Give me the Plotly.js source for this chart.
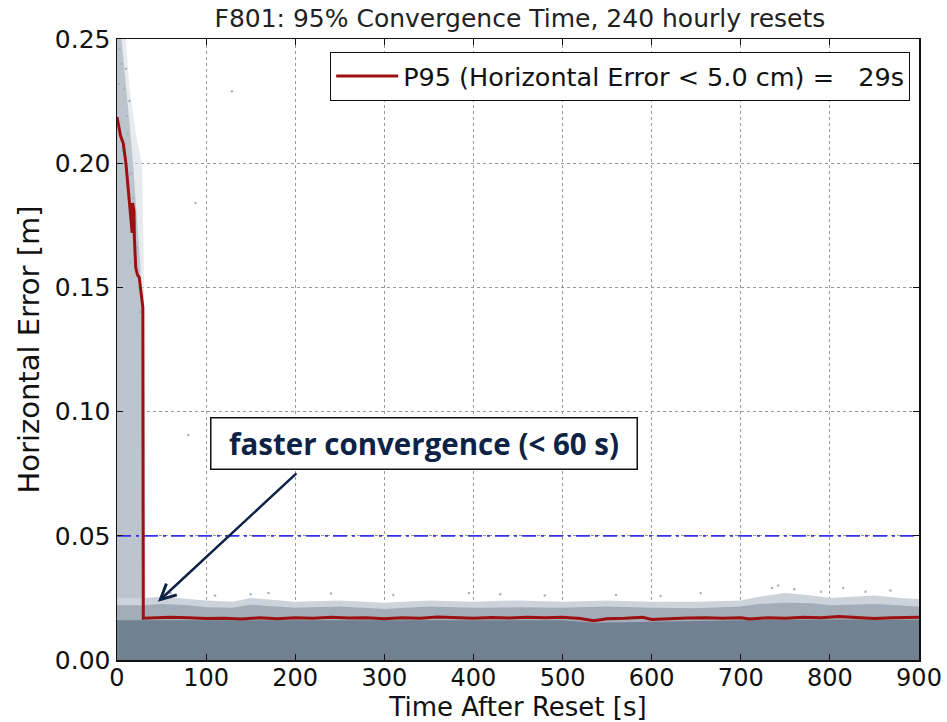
<!DOCTYPE html>
<html>
<head>
<meta charset="utf-8">
<script src="https://cdn.plot.ly/plotly-3.0.1.min.js"></script>
<style>html,body{margin:0;padding:0;background:#fff;}#chart{width:947px;height:722px;}</style>
</head>
<body>
<div id="chart"></div>
<script>
// ---- P95 convergence curve (seconds, metres) ----
const p95X = [0, 2, 4, 7, 10, 13, 16, 17, 17.5, 19, 19.5, 21, 23, 25, 27, 29, 29.5,
  40, 60, 80, 100, 120, 140, 160, 180, 200, 220, 240, 260, 280, 300, 320, 340, 360, 380,
  400, 420, 440, 460, 480, 500, 520, 535, 550, 570, 590, 600, 620, 640, 660, 680, 700,
  710, 730, 750, 770, 790, 810, 830, 850, 870, 890, 900];
const p95Y = [0.2186, 0.214, 0.211, 0.208, 0.200, 0.188, 0.176, 0.172, 0.184, 0.181, 0.170, 0.158, 0.155, 0.154, 0.148, 0.142, 0.0168,
  0.0170, 0.0172, 0.0170, 0.0167, 0.0168, 0.0165, 0.0170, 0.0166, 0.0170, 0.0168, 0.0172, 0.0169, 0.0170, 0.0166, 0.0170, 0.0168, 0.0173, 0.0170,
  0.0168, 0.0171, 0.0169, 0.0172, 0.0170, 0.0172, 0.0167, 0.0158, 0.0166, 0.0168, 0.0172, 0.0163, 0.0167, 0.0169, 0.0170, 0.0168, 0.0170,
  0.0165, 0.0170, 0.0168, 0.0172, 0.0170, 0.0175, 0.0171, 0.0167, 0.0170, 0.0171, 0.0172];

// ---- 5 cm threshold ----
const thresholdX = [0, 900];
const thresholdY = [0.05, 0.05];

// ---- scatter cloud envelopes ----
// early (unconverged) column: right edge of the dense column, by error level
const earlyEdgeY = [0, 0.03, 0.06, 0.10, 0.14, 0.16, 0.18, 0.20, 0.22, 0.24, 0.25];
const earlyEdgeX = [31, 30, 28.5, 28, 27.5, 26, 22, 18, 13, 8, 5];
// sparse halo around the early column
const haloEdgeY = [0, 0.06, 0.12, 0.16, 0.20, 0.21, 0.23, 0.25];
const haloEdgeX = [33, 32, 31, 30, 28, 22, 14, 10];
// solid band under the P95 line
const denseX = [0, 30, 100, 200, 300, 400, 500, 535, 600, 700, 800, 900];
const denseTop = [0.0160, 0.0160, 0.0158, 0.0160, 0.0158, 0.0160, 0.0160, 0.0150, 0.0155, 0.0160, 0.0163, 0.0162];
// mottled fringe above the P95 line
const fringeX = [0, 30, 50, 80, 100, 130, 150, 200, 250, 300, 350, 400, 450, 500, 550, 600, 650, 700, 720, 750, 780, 800, 850, 880, 900];
const fringeTop = [0.022, 0.022, 0.0225, 0.022, 0.0212, 0.021, 0.0222, 0.021, 0.0215, 0.0205, 0.0215, 0.021, 0.0212, 0.021, 0.0215, 0.021, 0.0208, 0.0215, 0.0225, 0.023, 0.0228, 0.022, 0.0225, 0.022, 0.0215];
const fringeOuterTop = [0.025, 0.025, 0.0255, 0.0245, 0.024, 0.0235, 0.025, 0.0235, 0.024, 0.023, 0.024, 0.0235, 0.024, 0.0235, 0.024, 0.0235, 0.0235, 0.024, 0.0255, 0.027, 0.026, 0.025, 0.026, 0.025, 0.0245];
// isolated points
const outlierX = [129, 88, 80, 3, 10, 8, 14, 12, 6, 16, 18, 20, 22, 15, 5, 11, 24, 26, 2,
  60, 110, 150, 170, 240, 310, 395, 430, 480, 560, 610, 655, 735, 742, 760, 790, 815, 840, 868];
const outlierY = [0.229, 0.184, 0.0906, 0.246, 0.238, 0.230, 0.225, 0.212, 0.205, 0.196, 0.186, 0.176, 0.166, 0.160, 0.240, 0.219, 0.150, 0.140, 0.232,
  0.027, 0.026, 0.0265, 0.027, 0.0268, 0.0262, 0.027, 0.0265, 0.026, 0.0262, 0.0258, 0.027, 0.029, 0.030, 0.0285, 0.0275, 0.029, 0.0275, 0.028];

// ---- text ----
const chartTitle = 'F801: 95% Convergence Time, 240 hourly resets';
const xTitle = 'Time After Reset [s]';
const yTitle = 'Horizontal Error [m]';
const legendLabel = 'P95 (Horizontal Error &lt; 5.0 cm) =\u00A0\u00A0\u00A029s';
const noteText = '<b>faster convergence (&lt; 60 s)</b>';
const xTicks = [0, 100, 200, 300, 400, 500, 600, 700, 800, 900];
const yTicks = [0.00, 0.05, 0.10, 0.15, 0.20, 0.25];

function polygon(edgeX, edgeY, topY) {
  return { x: [0].concat(edgeX).concat([0]), y: [0].concat(edgeY).concat([topY]) };
}
const halo = polygon(haloEdgeX, haloEdgeY, 0.25);
const early = polygon(earlyEdgeX, earlyEdgeY, 0.25);

const traces = [
  { x: halo.x, y: halo.y, type: 'scatter', mode: 'lines', fill: 'toself', fillcolor: 'rgba(212,218,224,0.55)', line: { width: 0 }, showlegend: false, hoverinfo: 'skip' },
  { x: early.x, y: early.y, type: 'scatter', mode: 'lines', fill: 'toself', fillcolor: '#bcc5ce', line: { width: 0 }, showlegend: false, hoverinfo: 'skip' },
  { x: fringeX, y: fringeOuterTop, type: 'scatter', mode: 'lines', fill: 'tozeroy', fillcolor: '#ccd3da', line: { width: 0 }, showlegend: false, hoverinfo: 'skip' },
  { x: fringeX, y: fringeTop, type: 'scatter', mode: 'lines', fill: 'tozeroy', fillcolor: '#a2adb8', line: { width: 0 }, showlegend: false, hoverinfo: 'skip' },
  { x: denseX, y: denseTop, type: 'scatter', mode: 'lines', fill: 'tozeroy', fillcolor: '#728191', line: { width: 0 }, showlegend: false, hoverinfo: 'skip' },
  { x: outlierX, y: outlierY, type: 'scatter', mode: 'markers', marker: { size: 2.5, color: '#aab3bd' }, showlegend: false, hoverinfo: 'skip' },
  { x: thresholdX, y: thresholdY, type: 'scatter', mode: 'lines', line: { color: '#3232e6', width: 1.8, dash: '14px,5px,3px,5px' }, showlegend: false, hoverinfo: 'skip' },
  { x: p95X, y: p95Y, type: 'scatter', mode: 'lines', name: legendLabel, line: { color: '#9c1010', width: 3 } }
];

const axisCommon = {
  showline: true, mirror: 'ticks', linecolor: '#111', linewidth: 1.5,
  ticks: 'inside', ticklen: 6, tickcolor: '#111', tickwidth: 1,
  showgrid: true, gridcolor: '#9a9a9a', griddash: 'dot', gridwidth: 1,
  zeroline: false,
  tickfont: { family: 'DejaVu Sans', size: 25, color: '#111' }
};

const layout = {
  width: 947, height: 722,
  margin: { l: 117, r: 28, t: 39, b: 62 },
  paper_bgcolor: '#fff', plot_bgcolor: '#fff',
  font: { family: 'DejaVu Sans', color: '#111' },
  title: { text: chartTitle, font: { family: 'DejaVu Sans', size: 25, color: '#222' }, x: 0.549, xanchor: 'center', yref: 'container', y: 0.975, yanchor: 'middle' },
  xaxis: Object.assign({}, axisCommon, {
    range: [0, 900], tickvals: xTicks, ticktext: xTicks.map(String),
    tickfont: { family: 'DejaVu Sans', size: 24, color: '#111' },
    ticklabelstandoff: -4,
    title: { text: xTitle, font: { family: 'DejaVu Sans', size: 26, color: '#111' }, standoff: 12 }
  }),
  yaxis: Object.assign({}, axisCommon, {
    range: [0, 0.25], tickvals: yTicks, ticktext: yTicks.map(v => v.toFixed(2)),
    title: { text: yTitle, font: { family: 'DejaVu Sans', size: 29, color: '#111' }, standoff: 6 }
  }),
  showlegend: true,
  legend: {
    x: 0.989, xanchor: 'right', y: 0.979, yanchor: 'top',
    bgcolor: '#fff', bordercolor: '#111', borderwidth: 1, itemwidth: 62,
    font: { family: 'DejaVu Sans', size: 25.5, color: '#111' }
  },
  annotations: [
    { x: 46, y: 0.0234, xref: 'x', yref: 'y', ax: 203, ay: 0.0757, axref: 'x', ayref: 'y',
      text: '', showarrow: true, arrowhead: 5, arrowsize: 1.2, arrowwidth: 2.5, arrowcolor: '#0d2346' },
    { x: 344, y: 0.0870, xref: 'x', yref: 'y', showarrow: false, text: noteText,
      font: { family: 'Open Sans', size: 29.5, color: '#0d2346' },
      bgcolor: '#fff', bordercolor: '#111', borderwidth: 1.5, borderpad: 1, width: 423, height: 48 }
  ]
};

Plotly.newPlot('chart', traces, layout, { displayModeBar: false, staticPlot: true });
</script>
</body>
</html>
